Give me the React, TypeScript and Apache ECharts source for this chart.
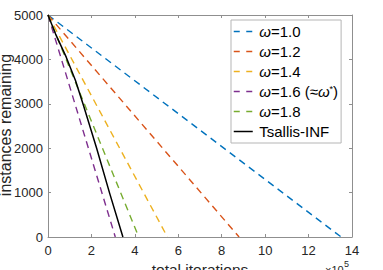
import React, { useEffect, useRef } from "react";
import * as echarts from "echarts";

const seriesNames = ["ω=1.0", "ω=1.2", "ω=1.4", "ω=1.6 (≈ω*)", "ω=1.8", "Tsallis-INF"];
const seriesColors = ["#0072BD", "#D95319", "#EDB120", "#7E2F8E", "#77AC30", "#000000"];

// x in units of 1e5 total iterations, y = instances remaining
const omega10 = [[0, 5000], [13.5, 0]];
const omega12 = [[0, 5000], [8.8, 0]];
const omega14 = [[0, 5000], [5.5, 0]];
const omega16 = [[0, 5000], [3.1, 0]];
const omega18 = [[0, 5000], [4.18, 0]];
const tsallis = [
  [0, 5000], [0.35, 4570], [0.84, 4050], [1.27, 3520], [1.61, 3000],
  [2.24, 2000], [2.83, 1000], [3.45, 0],
];
const seriesData = [omega10, omega12, omega14, omega16, omega18, tsallis];

const xMin = 0, xMax = 14, xStep = 2;
const yMin = 0, yMax = 5000, yStep = 1000;

const FONT = "'Liberation Sans', Arial, Helvetica, sans-serif";
const AXIS_COLOR = "#8f8f8f";
const TEXT_COLOR = "#262626";

export default function App() {
  const ref = useRef<HTMLDivElement>(null);
  useEffect(() => {
    if (!ref.current) return;
    const chart = echarts.init(ref.current, null, { renderer: "svg" });
    const axisLine = { show: true, onZero: false, lineStyle: { color: AXIS_COLOR, width: 1 } };
    const axisTick = { show: true, inside: true, length: 3, lineStyle: { color: AXIS_COLOR, width: 1 } };
    const labelBase = { fontSize: 13, color: TEXT_COLOR, fontFamily: FONT, formatter: (v: number) => String(v) };
    chart.setOption({
      animation: false,
      backgroundColor: "#ffffff",
      grid: { left: 48, right: 31, top: 15, bottom: 33, containLabel: false },
      xAxis: [
        {
          type: "value", min: xMin, max: xMax, interval: xStep, position: "bottom",
          axisLine, axisTick, splitLine: { show: false },
          axisLabel: { ...labelBase, margin: 7 },
        },
        {
          type: "value", min: xMin, max: xMax, interval: xStep, position: "top",
          axisLine, axisTick, splitLine: { show: false }, axisLabel: { show: false },
        },
      ],
      yAxis: [
        {
          type: "value", min: yMin, max: yMax, interval: yStep, position: "left",
          axisLine, axisTick, splitLine: { show: false },
          axisLabel: { ...labelBase, margin: 5 },
        },
        {
          type: "value", min: yMin, max: yMax, interval: yStep, position: "right",
          axisLine, axisTick, splitLine: { show: false }, axisLabel: { show: false },
        },
      ],
      legend: {
        orient: "vertical",
        left: 231,
        top: 20,
        padding: [4, 3, 4, 2],
        itemWidth: 19,
        itemHeight: 14,
        itemGap: 5,
        backgroundColor: "#ffffff",
        borderColor: "#b5b5b5",
        borderWidth: 1,
        borderRadius: 0,
        data: seriesNames.map((name, i) => ({
          name,
          itemStyle: { opacity: 0, borderWidth: 0 },
          lineStyle: {
            color: seriesColors[i],
            width: i === 5 ? 1.5 : 1.4,
            type: i === 5 ? "solid" : [6, 6.5],
          },
        })),
        textStyle: {
          fontSize: 15, color: "#000", fontFamily: FONT, lineHeight: 15, padding: [0, 0, 0, 1.5],
          rich: {
            o: { fontSize: 15, fontFamily: FONT, fontStyle: "italic", lineHeight: 15 },
            t: { fontSize: 15, fontFamily: FONT, lineHeight: 15 },
            s: { fontSize: 9, fontFamily: FONT, verticalAlign: "top", lineHeight: 15, padding: [0, 0, 6, 0] },
          },
        },
        formatter: (name: string) => {
          if (name === "Tsallis-INF") return "{t|Tsallis-INF}";
          if (name.indexOf("≈") >= 0) return "{o|ω}{t|=1.6 (≈}{o|ω}{s|*}{t|)}";
          return "{o|ω}{t|" + name.slice(1) + "}";
        },
      },
      series: seriesNames.map((name, i) => ({
        name,
        type: "line",
        xAxisIndex: 0,
        yAxisIndex: 0,
        data: seriesData[i],
        symbol: "none",
        showSymbol: false,
        color: seriesColors[i],
        itemStyle: { color: seriesColors[i] },
        lineStyle: {
          color: seriesColors[i],
          width: i === 5 ? 1.5 : 1.4,
          type: i === 5 ? "solid" : [7, 5],
        },
        z: i === 5 ? 3 : 2,
      })),
      graphic: [
        {
          type: "text", x: 5, y: 125, rotation: Math.PI / 2,
          style: { text: "instances remaining", fontSize: 16, fontFamily: FONT, fill: TEXT_COLOR, align: "center", verticalAlign: "middle" },
        },
        {
          type: "text", x: 200, y: 269,
          style: { text: "total iterations", fontSize: 15.5, fontFamily: FONT, fill: TEXT_COLOR, align: "center", verticalAlign: "middle" },
        },
        {
          type: "text", x: 325, y: 270,
          style: { text: "×10", fontSize: 11, fontFamily: FONT, fill: TEXT_COLOR, align: "left", verticalAlign: "middle" },
        },
        {
          type: "text", x: 344, y: 263.5,
          style: { text: "5", fontSize: 9, fontFamily: FONT, fill: TEXT_COLOR, align: "left", verticalAlign: "middle" },
        },
      ],
    });
    return () => chart.dispose();
  }, []);
  return (
    <div
      ref={ref}
      style={{ position: "absolute", left: 0, top: 0, width: 383, height: 270, background: "#fff" }}
    />
  );
}
